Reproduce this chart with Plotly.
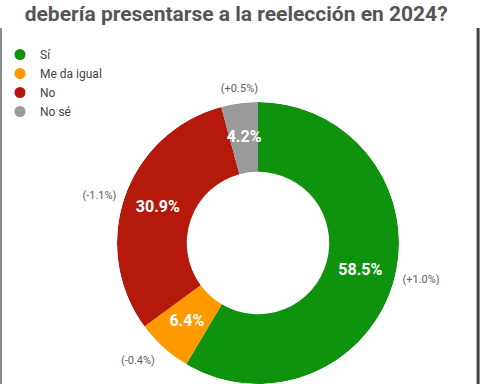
import numpy as np
import plotly.graph_objects as go

# ---- data ----
categories = ["Sí", "Me da igual", "No", "No sé"]
values = [58.5, 6.4, 30.9, 4.2]
changes = ["(+1.0%)", "(-0.4%)", "(-1.1%)", "(+0.5%)"]
colors = ["#0f930f", "#ff9900", "#b5190c", "#9a9a9a"]
title_text = "debería presentarse a la reelección en 2024?"

W, H = 480, 384
# donut geometry (layout, in px)
cx, cy, r = 258, 243, 141
hole = 0.505
dom_x = [(cx - r) / W, (cx + r) / W]
dom_y = [max(0, 1 - (cy + r) / H), 1 - (cy - r) / H]

# slice angles (deg, clockwise from top) derived from the values
vals = np.array(values)
span = vals / vals.sum() * 360.0
mid_theta = np.cumsum(span) - span / 2
value_text = [f"{v:.1f}%" for v in values]


def edge_anchor(theta):
    s, c = np.sin(np.radians(theta)), np.cos(np.radians(theta))
    v = "top" if c > 0.5 else ("bottom" if c < -0.5 else "middle")
    h = "right" if s > 0.5 else ("left" if s < -0.5 else "center")
    return f"{v} {h}"


fig = go.Figure()

# donut ring: one annular bar per category
fig.add_trace(go.Barpolar(
    theta=mid_theta, width=span, base=hole, r=[1 - hole] * len(values),
    marker=dict(color=colors, line=dict(width=0)),
    customdata=np.stack([categories, values], axis=1),
    hovertemplate="%{customdata[0]}: %{customdata[1]}%<extra></extra>",
    showlegend=False,
))

# value labels inside the ring
fig.add_trace(go.Scatterpolar(
    r=[(1 + hole) / 2] * len(values), theta=mid_theta, mode="text",
    text=value_text, textposition="middle center",
    textfont=dict(family="Roboto", size=16, color="white", weight="bold"),
    showlegend=False, hoverinfo="skip",
))

# change labels just outside the ring
fig.add_trace(go.Scatterpolar(
    r=[1.0] * len(values), theta=mid_theta, mode="markers+text",
    marker=dict(size=12, color="rgba(0,0,0,0)"),
    text=changes, textposition=[edge_anchor(t) for t in mid_theta],
    textfont=dict(family="Roboto", size=11, color="#5f5f5f"),
    cliponaxis=False, showlegend=False, hoverinfo="skip",
))

# legend entries (circle markers)
for cat, col in zip(categories, colors):
    fig.add_trace(go.Scatterpolar(
        r=[None], theta=[None], mode="markers", name=cat,
        marker=dict(symbol="circle", size=11, color=col),
    ))

fig.update_layout(
    width=W, height=H,
    margin=dict(l=0, r=0, t=0, b=0),
    paper_bgcolor="white",
    font=dict(family="Roboto", color="#444444"),
    title=dict(text=title_text, x=0.492, xanchor="center",
               y=1 - 14 / H, yanchor="middle", yref="container",
               font=dict(family="Roboto", size=21, color="#555555", weight="bold")),
    legend=dict(x=0.0, y=1 - 40 / H, xanchor="left", yanchor="top",
                font=dict(family="Roboto", size=12, color="#444444"),
                bgcolor="rgba(0,0,0,0)", tracegroupgap=0),
    polar=dict(domain=dict(x=dom_x, y=dom_y), bgcolor="rgba(0,0,0,0)",
               radialaxis=dict(range=[0, 1], visible=False, showgrid=False),
               angularaxis=dict(rotation=90, direction="clockwise",
                                visible=False, showgrid=False)),
    shapes=[
        dict(type="line", xref="paper", yref="paper", x0=0.002, x1=0.002,
             y0=0, y1=1 - 28 / H, line=dict(color="#8a8a8a", width=2)),
        dict(type="line", xref="paper", yref="paper", x0=0.996, x1=0.996,
             y0=0, y1=1 - 28 / H, line=dict(color="#444444", width=3)),
    ],
)

fig.write_html("out.html", config={"displayModeBar": False},
               post_script="document.body.style.margin='0';")
